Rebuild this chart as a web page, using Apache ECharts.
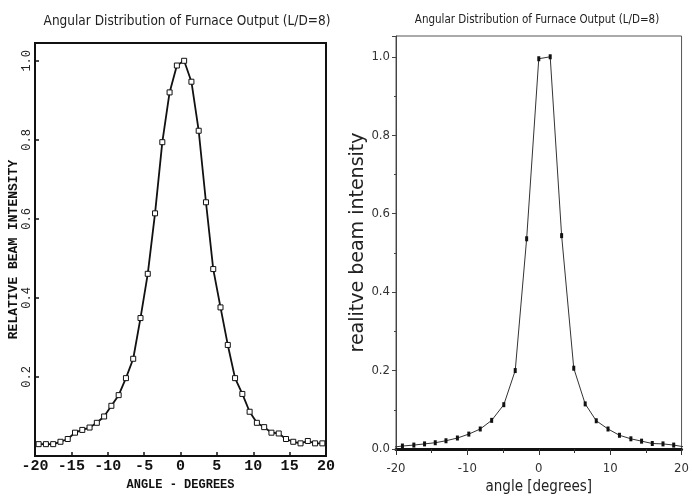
<!DOCTYPE html>
<html>
<head>
<meta charset="utf-8">
<script src="https://cdn.jsdelivr.net/npm/echarts@6/dist/echarts.min.js"></script>
<style>
html,body{margin:0;padding:0;background:#fff;}
#chart{width:692px;height:500px;}
</style>
</head>
<body>
<div id="chart"></div>
<script>
// ---- Data ----
const chartTitle = 'Angular Distribution of Furnace Output (L/D=8)';

// Left panel: scanned plot, points every 1 degree at half-integer angles
const leftAngles = [-19.5,-18.5,-17.5,-16.5,-15.5,-14.5,-13.5,-12.5,-11.5,-10.5,-9.5,-8.5,-7.5,-6.5,-5.5,-4.5,-3.5,-2.5,-1.5,-0.5,
                    0.5,1.5,2.5,3.5,4.5,5.5,6.5,7.5,8.5,9.5,10.5,11.5,12.5,13.5,14.5,15.5,16.5,17.5,18.5,19.5];
const leftValues = [0.030,0.030,0.030,0.036,0.043,0.059,0.066,0.072,0.084,0.100,0.127,0.154,0.197,0.246,0.349,0.461,0.614,0.794,0.920,0.988,
                    1.000,0.947,0.823,0.642,0.473,0.376,0.281,0.197,0.157,0.112,0.084,0.073,0.059,0.057,0.043,0.036,0.032,0.038,0.032,0.032];
const leftXTicks = [-20,-15,-10,-5,0,5,10,15,20];
const leftXName = 'ANGLE - DEGREES';
const leftYName = 'RELATIVE BEAM INTENSITY';

// Right panel: replotted data
const rightAngles = [-20.7,-19.1,-17.5,-16.0,-14.5,-13.0,-11.4,-9.8,-8.2,-6.6,-4.9,-3.3,-1.7,0.0,1.6,3.2,
                     4.9,6.5,8.05,9.7,11.3,12.9,14.4,15.9,17.4,18.9,20.5];
const rightValues = [0.004,0.0076,0.010,0.013,0.016,0.021,0.028,0.038,0.051,0.073,0.113,0.200,0.536,0.995,1.000,0.544,
                     0.206,0.115,0.072,0.051,0.035,0.026,0.020,0.014,0.013,0.010,0.005];
const rightXName = 'angle [degrees]';
const rightYName = 'realitve beam intensity';

const narrow = '"Liberation Sans Narrow","DejaVu Sans Condensed","Arial Narrow",sans-serif';
const mono = '"Liberation Mono","DejaVu Sans Mono",monospace';

const chart = echarts.init(document.getElementById('chart'), null, {renderer:'canvas'});

function zip(a,b){ return a.map((v,i)=>[v,b[i]]); }

const option = {
  animation:false,
  backgroundColor:'#fff',
  title:[
    {text:chartTitle, left:182, top:9, textAlign:'center',
     textStyle:{fontFamily:narrow, fontSize:13.5, fontWeight:'normal', color:'#222'}},
    {text:chartTitle, left:532, top:9, textAlign:'center',
     textStyle:{fontFamily:narrow, fontSize:11.5, fontWeight:'normal', color:'#222'}}
  ],
  grid:[
    {left:35, right:366, top:43, bottom:44, show:true, borderColor:'#111', borderWidth:2, backgroundColor:'transparent'},
    {left:396, right:3, top:36, bottom:48, show:true, borderColor:'#555', borderWidth:1, backgroundColor:'transparent'}
  ],
  xAxis:[
    {type:'value', gridIndex:0, min:-20, max:20, interval:5,
     name:leftXName, nameLocation:'middle', nameGap:17,
     nameTextStyle:{fontFamily:mono, fontSize:12, fontWeight:'bold', color:'#111'},
     axisLine:{show:true, onZero:false, lineStyle:{color:'#111', width:2}},
     axisTick:{show:true, inside:true, length:4, lineStyle:{color:'#111', width:1.5}},
     axisLabel:{fontFamily:mono, fontSize:15, fontWeight:'bold', color:'#111', margin:3,
       formatter:v=>leftXTicks.includes(v)?String(v):''},
     splitLine:{show:false}},
    {type:'value', gridIndex:1, min:-20, max:20, interval:10,
     name:rightXName, nameLocation:'middle', nameGap:31,
     nameTextStyle:{fontFamily:narrow, fontSize:15, color:'#222'},
     axisLine:{show:true, onZero:false, lineStyle:{color:'#111', width:3}},
     axisTick:{show:true, inside:false, length:6, lineStyle:{color:'#333', width:1}},
     minorTick:{show:true, splitNumber:2, length:4, lineStyle:{color:'#333', width:1}},
     axisLabel:{fontFamily:narrow, fontSize:13, color:'#333', margin:13},
     splitLine:{show:false}}
  ],
  yAxis:[
    {type:'value', gridIndex:0, min:0, max:1.045, interval:0.2,
     name:leftYName, nameLocation:'middle', nameGap:15, nameRotate:90,
     nameTextStyle:{fontFamily:mono, fontSize:13, fontWeight:'bold', color:'#111'},
     axisLine:{show:true, onZero:false, lineStyle:{color:'#111', width:2}},
     axisTick:{show:true, inside:true, length:4, lineStyle:{color:'#111', width:1.5}},
     axisLabel:{rotate:90, fontFamily:mono, fontSize:12, color:'#222', margin:2,
       formatter:v=>{ if(v<0.1) return ''; const r=Math.round(v*5); return Math.abs(v*5-r)<1e-6 ? v.toFixed(1) : ''; }},
     splitLine:{show:false}},
    {type:'value', gridIndex:1, min:0, max:1.053, interval:0.2,
     name:rightYName, nameLocation:'middle', nameGap:22, nameRotate:90,
     nameTextStyle:{fontFamily:'"DejaVu Sans",sans-serif', fontSize:19, color:'#222'},
     axisLine:{show:true, onZero:false, lineStyle:{color:'#444', width:1}},
     axisTick:{show:true, inside:false, length:4, lineStyle:{color:'#444', width:1}},
     minorTick:{show:true, splitNumber:2, length:2, lineStyle:{color:'#444', width:1}},
     axisLabel:{fontFamily:narrow, fontSize:13, color:'#333', margin:6,
       formatter:v=>{ const r=Math.round(v*5); return Math.abs(v*5-r)<1e-6 ? v.toFixed(1) : ''; }},
     splitLine:{show:false}}
  ],
  series:[
    {type:'line', xAxisIndex:0, yAxisIndex:0, data:zip(leftAngles,leftValues),
     symbol:'rect', symbolSize:5, showAllSymbol:true,
     lineStyle:{color:'#111', width:1.8},
     itemStyle:{color:'#fff', borderColor:'#111', borderWidth:1}, z:3},
    {type:'line', xAxisIndex:1, yAxisIndex:1, data:zip(rightAngles,rightValues),
     symbol:'rect', symbolSize:[3,5], showAllSymbol:true, clip:true,
     lineStyle:{color:'#333', width:1},
     itemStyle:{color:'#111'}, z:3}
  ]
};
chart.setOption(option);
</script>
</body>
</html>
